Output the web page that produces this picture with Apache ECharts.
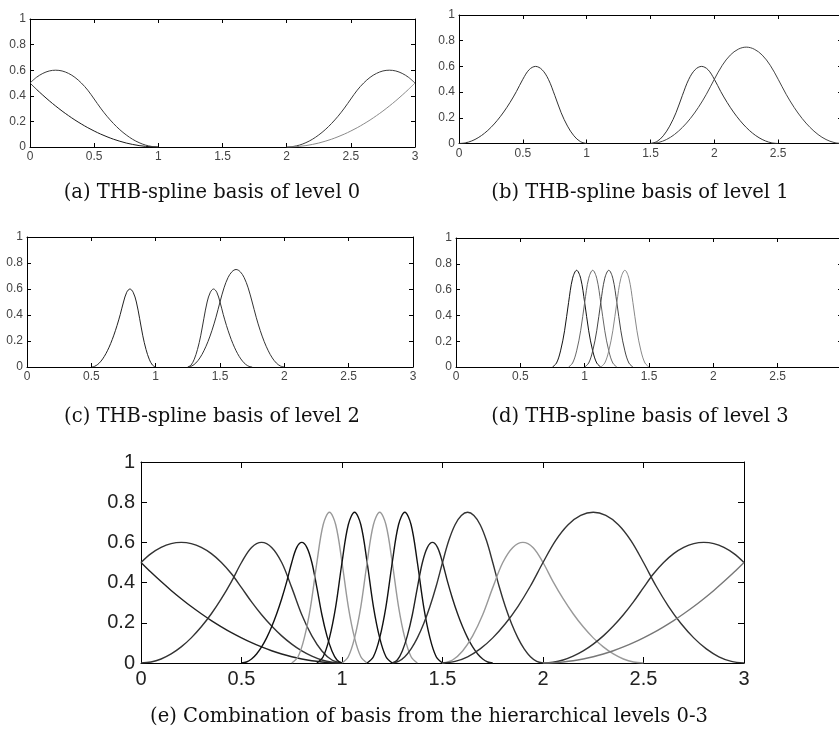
<!DOCTYPE html>
<html>
<head>
<meta charset="utf-8">
<title>THB-spline basis</title>
<script src="https://cdn.jsdelivr.net/npm/echarts/dist/echarts.min.js"></script>
<style>
  html, body { margin: 0; padding: 0; background: #fff; overflow: hidden; }
  #main { width: 860px; height: 740px; }
</style>
</head>
<body>
<div id="main"></div>
<script>
// sample positions along x
const X_0_1 = [0,0.05,0.1,0.15,0.2,0.25,0.3,0.35,0.4,0.45,0.5,0.55,0.6,0.65,0.7,0.75,0.8,0.85,0.9,0.95,1];
const X_2_3 = [2,2.05,2.1,2.15,2.2,2.25,2.3,2.35,2.4,2.45,2.5,2.55,2.6,2.65,2.7,2.75,2.8,2.85,2.9,2.95,3];
const X_15_25 = [1.5,1.55,1.6,1.65,1.7,1.75,1.8,1.85,1.9,1.95,2,2.05,2.1,2.15,2.2,2.25,2.3,2.35,2.4,2.45,2.5];
const X_15_3 = [1.5,1.5625,1.625,1.6875,1.75,1.8125,1.875,1.9375,2,2.0625,2.125,2.1875,2.25,2.3125,2.375,2.4375,2.5,2.5625,2.625,2.6875,2.75,2.8125,2.875,2.9375,3];
const X_05_1 = [0.5,0.525,0.55,0.575,0.6,0.625,0.65,0.675,0.7,0.725,0.75,0.775,0.8,0.825,0.85,0.875,0.9,0.925,0.95,0.975,1];
const X_125_175 = [1.25,1.275,1.3,1.325,1.35,1.375,1.4,1.425,1.45,1.475,1.5,1.525,1.55,1.575,1.6,1.625,1.65,1.675,1.7,1.725,1.75];
const X_125_2 = [1.25,1.28125,1.3125,1.34375,1.375,1.40625,1.4375,1.46875,1.5,1.53125,1.5625,1.59375,1.625,1.65625,1.6875,1.71875,1.75,1.78125,1.8125,1.84375,1.875,1.90625,1.9375,1.96875,2];
const X_D1 = [0.75,0.78125,0.8125,0.84375,0.875,0.90625,0.9375,0.96875,1,1.03125,1.0625,1.09375,1.125];
const X_D2 = [0.875,0.90625,0.9375,0.96875,1,1.03125,1.0625,1.09375,1.125,1.15625,1.1875,1.21875,1.25];
const X_D3 = [1,1.03125,1.0625,1.09375,1.125,1.15625,1.1875,1.21875,1.25,1.28125,1.3125,1.34375,1.375];
const X_D4 = [1.125,1.15625,1.1875,1.21875,1.25,1.28125,1.3125,1.34375,1.375,1.40625,1.4375,1.46875,1.5];

// values
const Y_A1 = [0.5,0.451,0.405,0.361,0.32,0.281,0.245,0.211,0.18,0.151,0.125,0.101,0.08,0.061,0.045,0.031,0.02,0.011,0.005,0.001,0];
const Y_A2 = [0.5,0.544,0.575,0.594,0.6,0.594,0.575,0.544,0.5,0.444,0.375,0.304,0.24,0.184,0.135,0.094,0.06,0.034,0.015,0.004,0];
const Y_A3 = [0,0.004,0.015,0.034,0.06,0.094,0.135,0.184,0.24,0.304,0.375,0.444,0.5,0.544,0.575,0.594,0.6,0.594,0.575,0.544,0.5];
const Y_A4 = [0,0.001,0.005,0.011,0.02,0.031,0.045,0.061,0.08,0.101,0.125,0.151,0.18,0.211,0.245,0.281,0.32,0.361,0.405,0.451,0.5];
const Y_TRUNC = [0,0.005,0.02,0.045,0.08,0.125,0.18,0.245,0.32,0.405,0.5,0.575,0.6,0.575,0.5,0.375,0.24,0.135,0.06,0.015,0];
const Y_TRUNC_M = [0,0.015,0.06,0.135,0.24,0.375,0.5,0.575,0.6,0.575,0.5,0.405,0.32,0.245,0.18,0.125,0.08,0.045,0.02,0.005,0];
const Y_FULL = [0,0.008,0.031,0.07,0.125,0.195,0.281,0.383,0.5,0.609,0.688,0.734,0.75,0.734,0.688,0.609,0.5,0.383,0.281,0.195,0.125,0.07,0.031,0.008,0];
const Y_D = [0,0.031,0.125,0.281,0.5,0.688,0.75,0.688,0.5,0.281,0.125,0.031,0];

const X_TICKS = [0, 3, 0.5];   // min, max, step
const Y_TICKS = [0, 1, 0.2];

function zip(xs, ys) { return xs.map((x, i) => [x, ys[i]]); }

const A1 = zip(X_0_1, Y_A1), A2 = zip(X_0_1, Y_A2), A3 = zip(X_2_3, Y_A3), A4 = zip(X_2_3, Y_A4);
const B1 = zip(X_0_1, Y_TRUNC), B2 = zip(X_15_25, Y_TRUNC_M), B3 = zip(X_15_3, Y_FULL);
const C1 = zip(X_05_1, Y_TRUNC), C2 = zip(X_125_175, Y_TRUNC_M), C3 = zip(X_125_2, Y_FULL);
const D1 = zip(X_D1, Y_D), D2 = zip(X_D2, Y_D), D3 = zip(X_D3, Y_D), D4 = zip(X_D4, Y_D);

const SMALL = { font: 12, fam: 'Liberation Sans', lab: '#444', lw: 1, margin: 4, tick: 4 };
const panels = [
  Object.assign({ grid: {left: 30, top: 19, width: 385, height: 128}, cut: false,
    curves: [[A1, '#1a1a1a'], [A2, '#3a3a3a'], [A3, '#3a3a3a'], [A4, '#8a8a8a']] }, SMALL),
  Object.assign({ grid: {left: 459, top: 15, width: 383, height: 128.5}, cut: true,
    curves: [[B1, '#333'], [B2, '#333'], [B3, '#444']] }, SMALL),
  Object.assign({ grid: {left: 27, top: 237, width: 386, height: 130}, cut: false,
    curves: [[C1, '#222'], [C2, '#333'], [C3, '#333']] }, SMALL),
  Object.assign({ grid: {left: 456, top: 238, width: 386, height: 129}, cut: true,
    curves: [[D1, '#111'], [D2, '#666'], [D3, '#444'], [D4, '#888']] }, SMALL),
  { grid: {left: 141, top: 462, width: 603, height: 201}, cut: false,
    font: 20, fam: 'Liberation Sans', lab: '#222', lw: 1.4, margin: 6, tick: 6,
    curves: [[A1, '#222'], [A2, '#333'], [B1, '#333'], [C1, '#111'], [D1, '#999'], [D2, '#111'], [D3, '#999'], [D4, '#111'],
             [C2, '#222'], [C3, '#333'], [B2, '#999'], [B3, '#333'], [A3, '#333'], [A4, '#777']] }
];

const captions = [
  ['(a) THB-spline basis of level 0', 212, 193],
  ['(b) THB-spline basis of level 1', 640, 193],
  ['(c) THB-spline basis of level 2', 212, 417],
  ['(d) THB-spline basis of level 3', 640, 417],
  ['(e) Combination of basis from the hierarchical levels 0-3', 429, 717]
];

const grids = [], xAxes = [], yAxes = [], series = [];
panels.forEach((p, i) => {
  grids.push(Object.assign({ containLabel: false }, p.grid));
  const line = { show: true, onZero: false, lineStyle: { color: '#000', width: 1 } };
  const tick = { show: true, inside: true, length: p.tick, lineStyle: { color: '#000' } };
  const label = { fontSize: p.font, fontFamily: p.fam, color: p.lab, margin: p.margin };
  ['bottom', 'top'].forEach(pos => xAxes.push({
    type: 'value', gridIndex: i, position: pos, min: X_TICKS[0], max: X_TICKS[1], interval: X_TICKS[2],
    axisLine: line, axisTick: tick, splitLine: { show: false },
    axisLabel: pos === 'bottom' ? Object.assign({ showMaxLabel: !p.cut }, label) : { show: false }
  }));
  ['left', 'right'].forEach(pos => yAxes.push({
    type: 'value', gridIndex: i, position: pos, min: Y_TICKS[0], max: Y_TICKS[1], interval: Y_TICKS[2],
    axisLine: line, axisTick: tick, splitLine: { show: false },
    axisLabel: pos === 'left' ? label : { show: false }
  }));
  p.curves.forEach(c => series.push({
    type: 'line', xAxisIndex: 2 * i, yAxisIndex: 2 * i, data: c[0],
    symbol: 'none', smooth: 0.35, silent: true,
    lineStyle: { color: c[1], width: p.lw }
  }));
});

const chart = echarts.init(document.getElementById('main'));
chart.setOption({
  animation: false,
  backgroundColor: '#fff',
  grid: grids,
  xAxis: xAxes,
  yAxis: yAxes,
  series: series,
  graphic: captions.map(c => ({
    type: 'text', x: c[1], y: c[2], silent: true,
    style: { text: c[0], font: "19.5px 'DejaVu Serif'", fill: '#111',
             textAlign: 'center', textVerticalAlign: 'middle', align: 'center', verticalAlign: 'middle' }
  }))
});
</script>
</body>
</html>
